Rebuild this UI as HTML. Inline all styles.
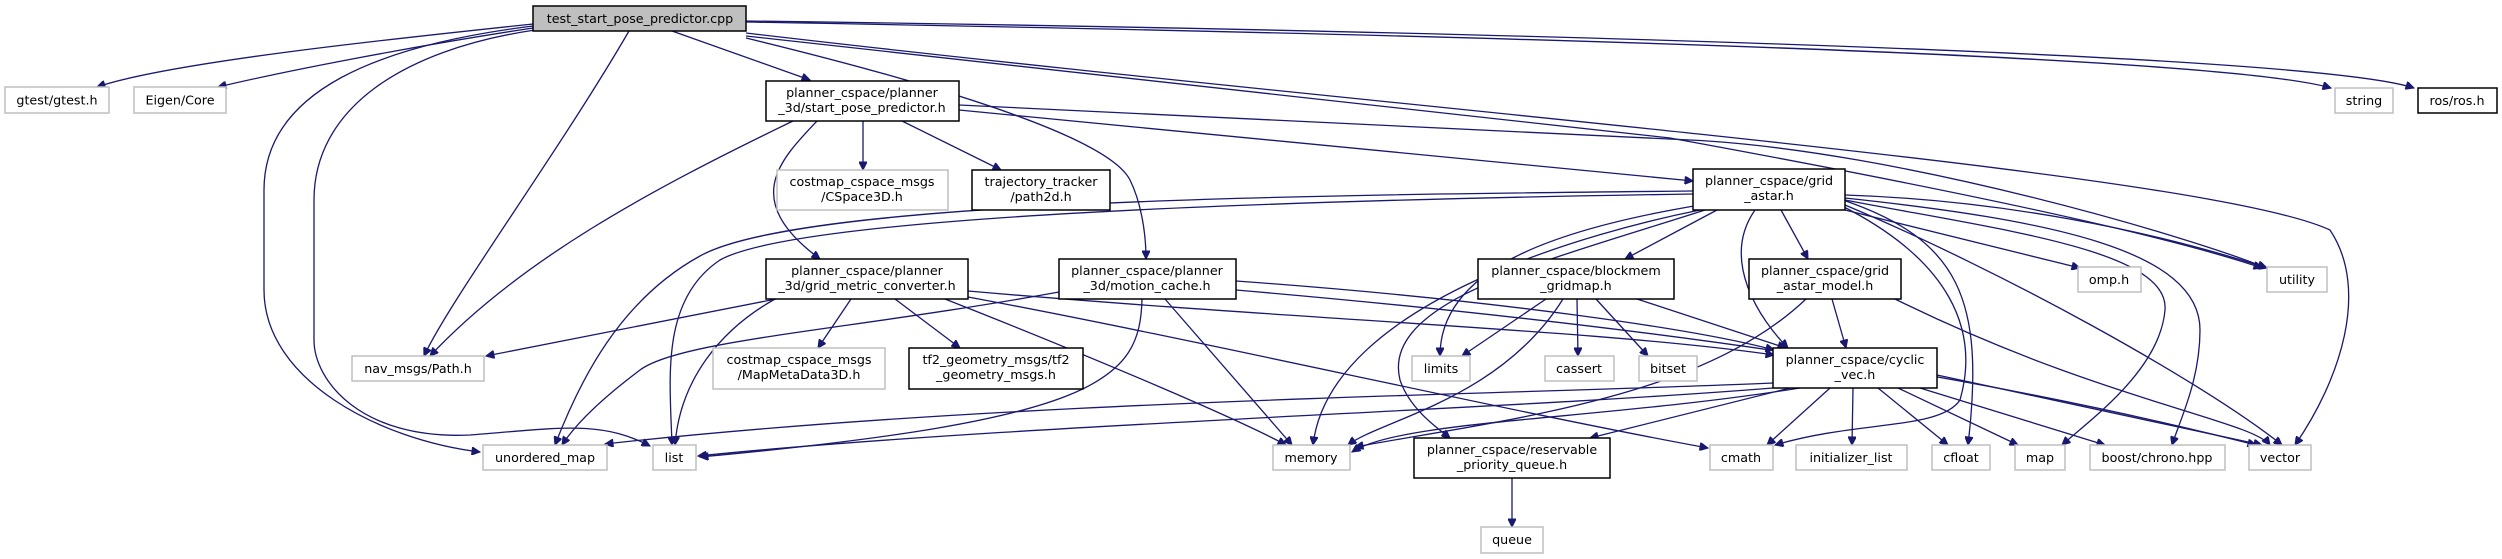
<!DOCTYPE html>
<html><head><meta charset="utf-8">
<style>
html,body{margin:0;padding:0;background:#fff;}
svg{display:block;}
text{font-family:"DejaVu Sans","Liberation Sans",sans-serif;font-size:12.7px;fill:#000;text-anchor:middle;}
.g{fill:#fff;stroke:#bfbfbf;stroke-width:1.5}
.b{fill:#fff;stroke:#000;stroke-width:1.5}
path{fill:none;stroke:#191970;stroke-width:1.3}
</style></head><body>
<svg width="2502" height="559" viewBox="0 0 2502 559" xmlns="http://www.w3.org/2000/svg">
<defs><marker id="a" viewBox="0 0 10 10" refX="10" refY="5" markerWidth="11" markerHeight="8" markerUnits="userSpaceOnUse" orient="auto"><path d="M0,0 L10,5 L0,10 z" style="fill:#191970;stroke:#191970"/></marker></defs>
<g marker-end="url(#a)">
<path d="M533,24 C400,38 170,62 97,87"/>
<path d="M533,28 C420,45 290,70 218,87"/>
<path d="M533,26 C380,45 264,90 264,190 L264,290 C264,380 380,440 480,452"/>
<path d="M535,30 C400,50 314,110 314,200 L314,340 C314,380 360,440 470,435 C560,428 600,420 650,446"/>
<path d="M629,31 C560,150 450,300 424,356"/>
<path d="M672,31 L810,80"/>
<path d="M746,38 C960,90 1110,140 1130,180 C1140,200 1146,230 1146,259"/>
<path d="M746,22 C1200,30 2200,50 2331,88"/>
<path d="M746,21 C1300,28 2300,50 2414,88"/>
<path d="M746,33 C1400,110 2200,170 2330,230 C2370,290 2340,380 2295,445"/>
<path d="M746,36 L1670,138 C1900,180 2150,230 2262,268"/>
<path d="M959,105 L1690,140 C1900,150 2200,240 2266,268"/>
<path d="M863,121 L863,170"/>
<path d="M902,121 L1001,170"/>
<path d="M817,121 C780,160 740,200 820,259"/>
<path d="M793,121 C650,190 520,260 430,356"/>
<path d="M959,110 L1693,181"/>
<path d="M1693,191 C1300,195 800,200 700,256 C620,300 580,380 555,445"/>
<path d="M1693,194 C1300,200 800,215 720,260 C660,300 670,380 672,445"/>
<path d="M1700,210 C1600,230 1330,300 1313,445"/>
<path d="M1705,210 C1550,260 1380,300 1400,380 C1410,410 1440,430 1450,438"/>
<path d="M1700,205 C1550,230 1440,270 1440,356"/>
<path d="M1717,210 L1625,259"/>
<path d="M1781,210 L1808,259"/>
<path d="M1755,210 C1720,260 1760,320 1788,348"/>
<path d="M1840,205 C1950,260 1980,330 1960,400 C1940,430 1860,420 1775,445"/>
<path d="M1843,200 C1960,240 1985,300 1968,445"/>
<path d="M1845,200 C2000,230 2170,250 2165,310 C2160,370 2090,420 2062,445"/>
<path d="M1845,198 C2050,220 2200,250 2200,330 C2200,380 2180,420 2172,445"/>
<path d="M1845,205 C2000,270 2200,380 2282,445"/>
<path d="M1845,210 L2080,268"/>
<path d="M1845,195 C2000,200 2150,230 2267,268"/>
<path d="M776,299 L486,356"/>
<path d="M775,299 C720,330 680,380 675,445"/>
<path d="M851,299 L818,348"/>
<path d="M895,299 L960,348"/>
<path d="M968,291 C1300,320 1600,330 1774,355"/>
<path d="M945,299 C1100,360 1240,420 1286,445"/>
<path d="M968,297 C1200,340 1500,410 1708,448"/>
<path d="M1059,292 C850,330 680,340 640,370 C600,400 575,425 562,445"/>
<path d="M1142,299 C1140,380 1100,420 700,457"/>
<path d="M1165,299 L1292,445"/>
<path d="M1236,281 C1500,300 1700,330 1774,350"/>
<path d="M1236,290 C1700,330 2000,380 2256,445"/>
<path d="M1773,383 C1500,395 1000,400 605,444"/>
<path d="M1773,388 C1500,410 1000,425 698,456"/>
<path d="M1800,388 C1600,420 1400,420 1352,452"/>
<path d="M1790,388 L1590,438"/>
<path d="M1830,388 L1767,445"/>
<path d="M1853,388 L1852,445"/>
<path d="M1878,388 L1948,445"/>
<path d="M1898,388 L2018,445"/>
<path d="M1920,388 L2105,445"/>
<path d="M1937,375 L2262,445"/>
<path d="M1546,299 L1462,356"/>
<path d="M1563,299 C1500,400 1380,420 1348,445"/>
<path d="M1577,299 L1578,356"/>
<path d="M1596,299 L1648,356"/>
<path d="M1637,299 L1786,348"/>
<path d="M1832,299 L1846,348"/>
<path d="M1806,299 C1700,400 1500,420 1355,447"/>
<path d="M1895,299 C2100,400 2250,420 2270,445"/>
<path d="M1512,478 L1512,527"/>
</g>
<rect x="533" y="6" width="213" height="25" style="fill:#bfbfbf;stroke:#000;stroke-width:1.5"/><text x="640" y="23">test_start_pose_predictor.cpp</text>
<rect class="g" x="5" y="87" width="104" height="26"/><text x="57" y="104.5">gtest/gtest.h</text>
<rect class="g" x="134" y="87" width="92" height="26"/><text x="180" y="104.5">Eigen/Core</text>
<rect class="b" x="766" y="81" width="193" height="40"/><text x="862" y="97">planner_cspace/planner</text><text x="862" y="112">_3d/start_pose_predictor.h</text>
<rect class="g" x="777" y="170" width="171" height="40"/><text x="862" y="186">costmap_cspace_msgs</text><text x="862" y="201">/CSpace3D.h</text>
<rect class="b" x="972" y="170" width="138" height="40"/><text x="1041" y="186">trajectory_tracker</text><text x="1041" y="201">/path2d.h</text>
<rect class="b" x="766" y="259" width="202" height="40"/><text x="867" y="275">planner_cspace/planner</text><text x="867" y="290">_3d/grid_metric_converter.h</text>
<rect class="b" x="1059" y="259" width="177" height="40"/><text x="1147" y="275">planner_cspace/planner</text><text x="1147" y="290">_3d/motion_cache.h</text>
<rect class="b" x="1693" y="169" width="152" height="41"/><text x="1769" y="185">planner_cspace/grid</text><text x="1769" y="200">_astar.h</text>
<rect class="b" x="1478" y="259" width="196" height="40"/><text x="1576" y="275">planner_cspace/blockmem</text><text x="1576" y="290">_gridmap.h</text>
<rect class="b" x="1749" y="259" width="152" height="40"/><text x="1825" y="275">planner_cspace/grid</text><text x="1825" y="290">_astar_model.h</text>
<rect class="g" x="2078" y="267" width="63" height="25"/><text x="2109" y="284">omp.h</text>
<rect class="g" x="2267" y="267" width="60" height="25"/><text x="2297" y="284">utility</text>
<rect class="g" x="2335" y="88" width="58" height="25"/><text x="2364" y="105">string</text>
<rect class="b" x="2418" y="88" width="79" height="25"/><text x="2457" y="105">ros/ros.h</text>
<rect class="g" x="352" y="356" width="132" height="25"/><text x="418" y="373">nav_msgs/Path.h</text>
<rect class="g" x="713" y="348" width="172" height="41"/><text x="799" y="364">costmap_cspace_msgs</text><text x="799" y="379">/MapMetaData3D.h</text>
<rect class="b" x="909" y="348" width="174" height="41"/><text x="996" y="364">tf2_geometry_msgs/tf2</text><text x="996" y="379">_geometry_msgs.h</text>
<rect class="g" x="1412" y="356" width="58" height="25"/><text x="1441" y="373">limits</text>
<rect class="g" x="1545" y="356" width="69" height="25"/><text x="1579" y="373">cassert</text>
<rect class="g" x="1639" y="356" width="58" height="25"/><text x="1668" y="373">bitset</text>
<rect class="b" x="1773" y="348" width="164" height="40"/><text x="1855" y="364">planner_cspace/cyclic</text><text x="1855" y="379">_vec.h</text>
<rect class="g" x="483" y="445" width="124" height="25"/><text x="545" y="462">unordered_map</text>
<rect class="g" x="653" y="445" width="43" height="25"/><text x="674" y="462">list</text>
<rect class="g" x="1273" y="445" width="77" height="25"/><text x="1311" y="462">memory</text>
<rect class="b" x="1414" y="438" width="196" height="40"/><text x="1512" y="454">planner_cspace/reservable</text><text x="1512" y="469">_priority_queue.h</text>
<rect class="g" x="1710" y="445" width="63" height="25"/><text x="1741" y="462">cmath</text>
<rect class="g" x="1796" y="445" width="111" height="25"/><text x="1851" y="462">initializer_list</text>
<rect class="g" x="1932" y="445" width="58" height="25"/><text x="1961" y="462">cfloat</text>
<rect class="g" x="2015" y="445" width="50" height="25"/><text x="2040" y="462">map</text>
<rect class="g" x="2090" y="445" width="135" height="25"/><text x="2157" y="462">boost/chrono.hpp</text>
<rect class="g" x="2249" y="445" width="62" height="25"/><text x="2280" y="462">vector</text>
<rect class="g" x="1481" y="527" width="62" height="26"/><text x="1512" y="544">queue</text>
</svg>
</body></html>
